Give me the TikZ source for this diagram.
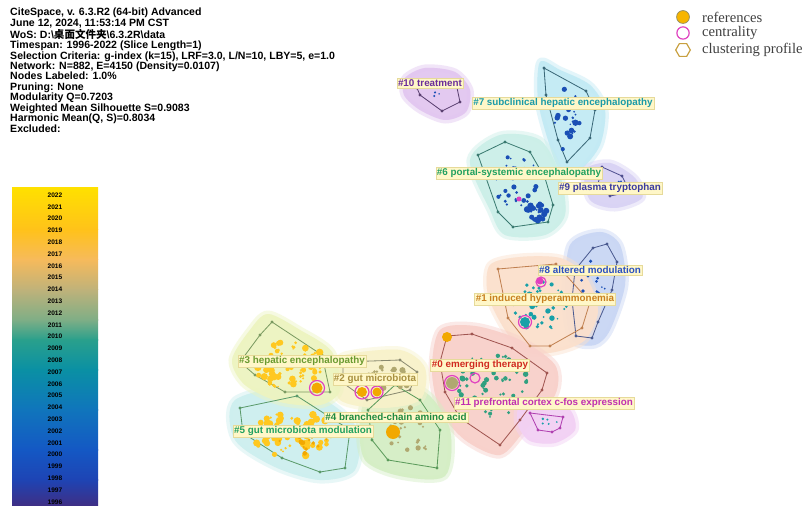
\documentclass[tikz,border=0pt]{standalone}
\usepackage{fontspec}
\setmainfont{Liberation Sans}
\newfontfamily\serifleg{Liberation Serif}
\newfontfamily\cjk{Noto Sans CJK SC}
\usetikzlibrary{shapes.geometric}

\definecolor{tagbg}{HTML}{FFF7C8}
\definecolor{tagedge}{HTML}{E6DA9A}
\definecolor{ringmag}{HTML}{E040C0}
\definecolor{refor}{HTML}{F7B500}
\definecolor{hexgold}{HTML}{C8A040}
\definecolor{dotblue}{HTML}{1A4FB5}
\definecolor{dotteal}{HTML}{18A0A8}
\definecolor{dotgreen}{HTML}{30A080}
\definecolor{dotyel}{HTML}{FFC820}
\definecolor{dotor}{HTML}{F2A800}
\definecolor{dotolive}{HTML}{B0A870}
% colour bar
\definecolor{cbA}{HTML}{FFE000}
\definecolor{cbB}{HTML}{FFC21A}
\definecolor{cbC}{HTML}{F6BA5C}
\definecolor{cbD}{HTML}{BFB27A}
\definecolor{cbE}{HTML}{7FAE86}
\definecolor{cbF}{HTML}{2AA08C}
\definecolor{cbG}{HTML}{0A90A4}
\definecolor{cbH}{HTML}{1075BC}
\definecolor{cbI}{HTML}{1458C4}
\definecolor{cbJ}{HTML}{1E44B4}
\definecolor{cbK}{HTML}{3E2F86}
% cluster areas
\definecolor{ar10}{HTML}{E2C6F0}
\definecolor{ar7}{HTML}{C2EAF4}
\definecolor{ar6}{HTML}{CBEFE8}
\definecolor{ar9}{HTML}{D8D2F4}
\definecolor{ar8}{HTML}{C9D6F4}
\definecolor{ar1}{HTML}{FBE0CC}
\definecolor{ar0}{HTML}{F8D0CA}
\definecolor{ar11}{HTML}{F2D0F4}
\definecolor{ar5}{HTML}{CDEFEF}
\definecolor{ar4}{HTML}{D4EEC4}
\definecolor{ar2}{HTML}{F8F2CA}
\definecolor{ar3}{HTML}{EDF4C0}

\newcommand\dotcloud[7]{%
  \foreach \k in {1,...,#5}{
    \pgfmathsetmacro\ang{rnd*360}
    \pgfmathsetmacro\rad{sqrt(rnd)}
    \pgfmathsetmacro\sz{0.8+rnd*#7}
    \fill[#6] ({#1+#3*\rad*cos(\ang)},{#2+#4*\rad*sin(\ang)}) circle (\sz);
  }}
\newcommand\clusterarea[2]{%
  \path[fill=#1,draw=#1,line width=6pt,line join=round,opacity=0.45] plot[smooth cycle] coordinates {#2};
  \fill[#1,opacity=0.9] plot[smooth cycle] coordinates {#2};}

\begin{document}
\begin{tikzpicture}[x=0.03cm,y=-0.03cm,
  tag/.style={fill=tagbg,draw=tagedge,line width=0.3pt,inner sep=1.1pt,font=\fontsize{8.4}{9}\selectfont\bfseries},
  hull/.style={line width=0.7pt,mark=*,mark size=0.8pt},
  ring/.style={draw=ringmag,line width=1pt},
  leg/.style={anchor=west,font=\serifleg\fontsize{12.5}{13}\selectfont,text=black!75},
  yr/.style={font=\fontsize{5.6}{6}\selectfont\bfseries}
]
\useasboundingbox[fill=white] (0,0) rectangle (809,512);
\pgfmathsetseed{17}

\node[anchor=north west,align=left,inner sep=0,font=\fontsize{9}{8.9}\selectfont\bfseries] (info) at (10,8)
  {CiteSpace, v. 6.3.R2 (64-bit) Advanced\\
   June 12, 2024, 11:53:14 PM CST\\
   WoS: D:\textbackslash{\cjk 桌面文件夹}\textbackslash 6.3.2R\textbackslash data\\
   Timespan: 1996-2022 (Slice Length=1)\\
   Selection Criteria: g-index (k=15), LRF=3.0, L/N=10, LBY=5, e=1.0\\
   Network: N=882, E=4150 (Density=0.0107)\\
   Nodes Labeled: 1.0\%\\
   Pruning: None\\
   Modularity Q=0.7203\\
   Weighted Mean Silhouette S=0.9083\\
   Harmonic Mean(Q, S)=0.8034\\
   Excluded:};

% legend
\node[circle,fill=refor,draw=gray!70!olive,line width=0.6pt,minimum size=11pt,inner sep=0] (legdot) at (683,17) {};
\node[circle,ring,minimum size=10.5pt,inner sep=0] (legring) at (683,33) {};
\node[regular polygon,regular polygon sides=6,draw=hexgold,line width=1pt,minimum size=12.5pt,inner sep=0] (leghex) at (683,50) {};
\node[leg] (legref) at (698,17) {references};
\node[leg] (legcen) at (698,33) {centrality};
\node[leg] (legclu) at (698,50) {clustering profile};

% colour bar
\shade[top color=cbA,bottom color=cbB] (12,188) rectangle (98,230);
\shade[top color=cbB,bottom color=cbC] (12,229.5) rectangle (98,260);
\shade[top color=cbC,bottom color=cbD] (12,259.5) rectangle (98,290);
\shade[top color=cbD,bottom color=cbE] (12,289.5) rectangle (98,320);
\shade[top color=cbE,bottom color=cbF] (12,319.5) rectangle (98,340);
\shade[top color=cbF,bottom color=cbG] (12,339.5) rectangle (98,370);
\shade[top color=cbG,bottom color=cbH] (12,369.5) rectangle (98,410);
\shade[top color=cbH,bottom color=cbI] (12,409.5) rectangle (98,450);
\shade[top color=cbI,bottom color=cbJ] (12,449.5) rectangle (98,480);
\shade[top color=cbJ,bottom color=cbK] (12,479.5) rectangle (98,505);
\foreach \yr [count=\i from 0] in {2022,2021,...,1996}
  \node[yr] (y\yr) at (55,{195+\i*11.8}) {\yr};

% cluster areas
\clusterarea{ar10}{(405,78) (425,68) (455,72) (470,90) (466,112) (445,120) (420,110) (404,95)}
\clusterarea{ar7}{(540,62) (560,70) (590,85) (605,110) (600,145) (580,170) (560,170) (548,140) (538,100)}
\clusterarea{ar6}{(500,135) (540,140) (560,175) (565,215) (545,235) (505,235) (490,210) (470,160)}
\clusterarea{ar9}{(585,170) (610,163) (635,178) (642,198) (615,208) (590,200)}
\clusterarea{ar8}{(570,245) (600,232) (620,245) (625,285) (610,330) (595,345) (572,340) (565,300)}
\clusterarea{ar1}{(490,265) (520,257) (560,258) (585,275) (598,310) (585,340) (555,352) (525,352) (505,330) (488,295)}
\clusterarea{ar0}{(440,330) (475,326) (520,340) (555,365) (555,395) (525,430) (500,455) (465,440) (440,410) (432,370)}
\clusterarea{ar11}{(520,405) (545,400) (570,410) (575,430) (555,443) (530,441) (518,425)}
\clusterarea{ar5}{(235,400) (300,388) (355,425) (355,470) (320,480) (275,467) (235,440)}
\clusterarea{ar4}{(375,380) (425,392) (450,430) (445,476) (400,476) (365,460) (360,420)}
\clusterarea{ar2}{(345,355) (400,350) (425,368) (420,400) (380,408) (340,400) (335,370)}
\clusterarea{ar3}{(268,314) (300,330) (332,352) (340,390) (320,405) (280,402) (245,385) (232,360) (250,330)}

% hulls
\draw[hull,color={rgb,255:red,90;green,64;blue,112}] plot coordinates {(417,88) (456,83) (460,102) (442,111) (420,95)} -- cycle;
\draw[hull,color={rgb,255:red,58;green,104;blue,120}] plot coordinates {(544,68) (586,91) (595,110) (590,138) (567,162) (558,140) (546,95)} -- cycle;
\draw[hull,color={rgb,255:red,58;green,122;blue,112}] plot coordinates {(505,142) (530,152) (545,178) (553,205) (548,222) (513,227) (498,212) (478,155)} -- cycle;
\draw[hull,color={rgb,255:red,80;green,80;blue,144}] plot coordinates {(602,167) (622,176) (630,192) (610,196) (598,184)} -- cycle;
\draw[hull,color={rgb,255:red,74;green,90;blue,144}] plot coordinates {(593,248) (607,244) (617,262) (612,290) (598,322) (592,338) (576,336) (572,300) (575,270)} -- cycle;
\draw[hull,color={rgb,255:red,192;green,128;blue,80}] plot coordinates {(498,269) (556,264) (590,302) (582,328) (550,346) (530,346) (508,318)} -- cycle;
\draw[hull,color={rgb,255:red,160;green,85;blue,80}] plot coordinates {(447,336) (472,334) (512,348) (547,373) (542,390) (520,420) (500,445) (460,418) (445,392) (440,362)} -- cycle;
\draw[hull,color={rgb,255:red,176;green,64;blue,176}] plot coordinates {(530,413) (563,417) (560,428) (552,432) (538,430)} -- cycle;
\draw[hull,color={rgb,255:red,122;green,154;blue,96}] plot coordinates {(272,322) (322,355) (330,392) (285,392) (255,375) (240,362) (260,335)} -- cycle;
\draw[hull,color={rgb,255:red,138;green,138;blue,112}] plot coordinates {(343,362) (400,360) (417,372) (410,390) (367,400) (343,383)} -- cycle;
\draw[hull,color={rgb,255:red,90;green,154;blue,90}] plot coordinates {(395,385) (420,400) (440,430) (437,468) (388,460) (372,440) (368,410)} -- cycle;
\draw[hull,color={rgb,255:red,90;green,154;blue,106}] plot coordinates {(240,408) (297,396) (350,430) (345,468) (320,472) (282,458) (243,433)} -- cycle;

% references
\dotcloud{432}{95}{10}{5}{3}{dotblue}{0.6}
\dotcloud{568}{120}{14}{32}{24}{dotblue}{2.4}
\dotcloud{516}{180}{22}{28}{32}{dotblue}{1.8}
\dotcloud{536}{212}{11}{9}{22}{dotblue}{2.6}
\dotcloud{614}{184}{8}{6}{4}{dotblue}{0.8}
\dotcloud{594}{280}{13}{22}{14}{dotblue}{1.2}
\dotcloud{540}{305}{28}{28}{50}{dotteal}{2.2}
\dotcloud{492}{385}{36}{32}{60}{dotgreen}{2}
\dotcloud{548}{422}{10}{5}{5}{dotteal}{0.6}
\dotcloud{290}{365}{36}{24}{70}{dotyel}{3}
\dotcloud{295}{436}{42}{24}{75}{dotyel}{3}
\dotcloud{298}{440}{30}{18}{20}{dotor}{2}
\dotcloud{390}{378}{22}{12}{30}{dotolive}{2.4}
\dotcloud{410}{432}{22}{26}{28}{dotolive}{2}
\fill[dotor] (362,392) circle (5);
\fill[dotor] (377,392) circle (4.5);
\fill[dotor] (317,388) circle (5.5);
\fill[dotor] (393,432) circle (7);
\fill[dotor] (447,337) circle (5);
\fill[dotolive] (452,383) circle (6);
\fill[dotteal] (525,322) circle (5);
\fill[ringmag] (540,281) circle (3.5);
\fill[ringmag] (519,199) circle (2.5);

% centrality
\draw[ring] (362,392) circle (7);
\draw[ring] (377,392) circle (6);
\draw[ring] (317,388) circle (7.5);
\draw[ring] (452,383) circle (7.5);
\draw[ring] (475,378) circle (5);
\draw[ring] (525,322) circle (6.5);
\draw[ring] (541,282) circle (5);

% cluster labels
\node[tag,text={rgb,255:red,106;green,44;blue,154}] (lbl10) at (430,83) {\#10 treatment};
\node[tag,text={rgb,255:red,26;green,154;blue,168}] (lbl7) at (563,103) {\#7 subclinical hepatic encephalopathy};
\node[tag,text={rgb,255:red,32;green,160;blue,96}] (lbl6) at (519,173) {\#6 portal-systemic encephalopathy};
\node[tag,text={rgb,255:red,58;green,58;blue,160}] (lbl9) at (610,188) {\#9 plasma tryptophan};
\node[tag,text={rgb,255:red,42;green,80;blue,192}] (lbl8) at (590,270) {\#8 altered modulation};
\node[tag,text={rgb,255:red,200;green,128;blue,32}] (lbl1) at (545,299) {\#1 induced hyperammonemia};
\node[tag,text={rgb,255:red,208;green,42;blue,32}] (lbl0) at (480,365) {\#0 emerging therapy};
\node[tag,text={rgb,255:red,192;green,48;blue,176}] (lbl11) at (544,403) {\#11 prefrontal cortex c-fos expression};
\node[tag,text={rgb,255:red,106;green,154;blue,48}] (lbl3) at (302,361) {\#3 hepatic encephalopathy};
\node[tag,text={rgb,255:red,168;green,144;blue,64}] (lbl2) at (375,379) {\#2 gut microbiota};
\node[tag,text={rgb,255:red,32;green,138;blue,64}] (lbl4) at (396,417) {\#4 branched-chain amino acid};
\node[tag,text={rgb,255:red,32;green,160;blue,96}] (lbl5) at (303,431) {\#5 gut microbiota modulation};
\end{tikzpicture}
\end{document}
